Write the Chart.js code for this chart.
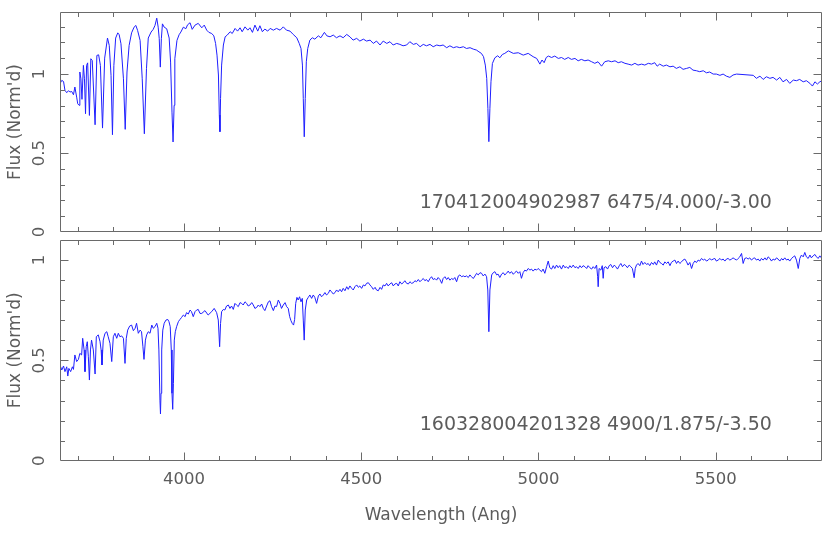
<!DOCTYPE html>
<html><head><meta charset="utf-8">
<script src="https://cdn.jsdelivr.net/npm/chart.js@4.4.1/dist/chart.umd.min.js"></script>
<style>
html,body{margin:0;padding:0;background:#fff;}
#wrap{position:relative;width:830px;height:534px;overflow:hidden;}
.panel{position:absolute;left:0;width:830px;}
#p1{top:0;height:236px;} #p2{top:236px;height:298px;}
</style></head><body>
<div id="wrap"><div class="panel" id="p1"><canvas id="c1"></canvas></div><div class="panel" id="p2"><canvas id="c2"></canvas></div></div>
<script>
// ---------------- DATA ----------------
const xTickValues = [4000, 4500, 5000, 5500];
const xTickLabels = ['4000', '4500', '5000', '5500'];
const xTitle = 'Wavelength (Ang)';
const yTitle = "Flux (Norm'd)";
const yTickValues = [0, 0.5, 1];
const yTickLabels = ['0', '0.5', '1'];

const topLabel = '170412004902987 6475/4.000/-3.00';
const botLabel = '160328004201328 4900/1.875/-3.50';

const topWave = [
3650,3655,3660,3664,3669,3674,3678,3683,3688,3692,
3697,3700,3704,3706,3709,3712,3716,3719,3722,3725,
3728,3733,3737,3741,3749,3754,3759,3764,3770,3776,
3784,3789,3794,3798,3802,3807,3813,3817,3822,3829,
3834,3839,3845,3852,3859,3864,3869,3876,3882,3888,
3894,3899,3907,3913,3918,3923,3927,3930,3933,3936,
3939,3944,3951,3958,3962,3966,3969,3972,3974,3980,
3986,3991,3998,4005,4010,4017,4023,4031,4040,4050,
4057,4064,4070,4078,4084,4089,4093,4097,4099.5,4101.3,
4103,4106,4111,4116,4122,4130,4136,4144,4151,4158,
4164,4172,4180,4186,4193,4200,4208,4214,4221,4228,
4236,4243,4252,4261,4271,4280,4289,4299,4308,4318,
4325,4330,4334,4336.4,4339.2,4342,4345,4349,4355,4362,
4369,4379,4386,4396,4403,4412,4421,4430,4440,4449,
4459,4468,4477,4487,4496,4506,4515,4525,4534,4543,
4553,4562,4572,4581,4590,4600,4609,4618,4628,4637,
4647,4656,4666,4675,4684,4694,4703,4713,4722,4731,
4741,4750,4760,4769,4778,4788,4797,4807,4816,4825,
4832,4839,4845,4850,4854,4857.3,4860,4863,4866,4870,
4877,4885,4891,4898,4905,4915,4929,4943,4957,4971,
4985,4995,5004,5010,5016,5022,5028,5037,5046,5056,
5065,5074,5084,5093,5103,5112,5121,5131,5140,5150,
5159,5168,5178,5187,5197,5206,5216,5225,5234,5244,
5253,5263,5272,5281,5291,5300,5310,5319,5328,5335,
5342,5352,5361,5371,5380,5389,5399,5408,5418,5427,
5436,5446,5455,5465,5474,5483,5493,5502,5512,5521,
5530,5540,5549,5559,5606,5615,5625,5634,5643,5653,
5662,5672,5681,5690,5700,5709,5719,5728,5737,5747,
5756,5766,5773,5780,5787,5794,5800];
const topFlux = [
0.939,0.960,0.953,0.897,0.882,0.895,0.886,0.890,0.869,0.918,
0.854,0.812,0.802,1.013,0.970,0.840,1.055,0.970,0.749,1.055,
1.071,0.738,1.097,1.086,0.679,1.118,1.122,1.055,0.658,1.101,
1.228,1.181,0.992,0.616,1.055,1.228,1.261,1.249,1.192,0.970,
0.650,1.013,1.181,1.261,1.297,1.308,1.276,1.213,0.970,0.622,
1.034,1.228,1.266,1.283,1.308,1.354,1.297,1.224,1.044,1.224,
1.318,1.297,1.287,1.228,1.076,0.759,0.570,0.802,1.097,1.213,
1.249,1.266,1.297,1.287,1.312,1.325,1.283,1.310,1.321,1.293,
1.310,1.278,1.264,1.257,1.242,1.194,1.120,0.994,0.741,0.635,
0.846,1.057,1.184,1.236,1.247,1.268,1.257,1.289,1.272,1.293,
1.268,1.299,1.278,1.293,1.264,1.310,1.272,1.306,1.268,1.285,
1.272,1.289,1.278,1.289,1.278,1.299,1.278,1.272,1.251,1.230,
1.194,1.162,1.057,0.846,0.603,0.846,1.078,1.162,1.215,1.230,
1.221,1.242,1.230,1.264,1.242,1.236,1.247,1.230,1.242,1.230,
1.251,1.236,1.215,1.226,1.209,1.221,1.209,1.215,1.194,1.209,
1.184,1.209,1.194,1.205,1.184,1.194,1.188,1.179,1.184,1.205,
1.188,1.194,1.173,1.188,1.179,1.188,1.173,1.184,1.179,1.184,
1.167,1.179,1.167,1.173,1.167,1.173,1.162,1.167,1.158,1.152,
1.141,1.131,1.110,1.057,0.973,0.783,0.572,0.783,0.951,1.067,
1.103,1.116,1.103,1.124,1.131,1.147,1.131,1.135,1.120,1.131,
1.110,1.099,1.063,1.089,1.072,1.105,1.114,1.105,1.114,1.099,
1.105,1.093,1.105,1.093,1.099,1.084,1.093,1.084,1.089,1.078,
1.068,1.078,1.050,1.078,1.084,1.078,1.084,1.072,1.078,1.068,
1.063,1.057,1.068,1.057,1.063,1.057,1.068,1.063,1.072,1.050,
1.063,1.050,1.057,1.046,1.050,1.036,1.046,1.030,1.036,1.042,
1.025,1.021,1.015,1.021,1.008,1.013,1.000,1.000,0.992,1.000,
0.987,0.979,0.994,1.000,0.992,0.973,0.987,0.966,0.983,0.973,
0.979,0.962,0.979,0.951,0.966,0.941,0.962,0.958,0.966,0.951,
0.958,0.941,0.924,0.951,0.937,0.951,0.958];

const botWave = [
3650,3655,3660,3664,3669,3672,3675,3680,3685,3688,
3692,3697,3702,3706,3711,3714,3718,3720.5,3724,3727,
3730,3733,3736,3739,3744,3749,3752.5,3758,3763,3766,
3768.5,3772,3777,3782,3786,3791,3796,3800.5,3805,3810,
3814.5,3819,3824,3829,3833.4,3837,3841,3846.5,3852,3857,
3862,3866,3871,3876,3880,3884,3887,3891,3894.5,3899,
3904,3909,3913,3918,3923,3926.5,3929,3932,3933.5,3935,
3937,3940,3944,3949,3954,3957.5,3961,3964,3966,3968,
3970,3972.5,3975.4,3979,3984,3988.5,3993,3998,4003,4007,
4012,4017,4021,4026,4031,4035.5,4040,4045,4050,4059,
4068,4078,4085,4092,4096.6,4100.4,4103,4106,4111,4115,
4120,4125,4129.5,4134,4139,4143.6,4148,4153,4158,4162.5,
4167,4172,4176.6,4181,4186,4191,4195.4,4200,4205,4209.5,
4214,4219,4223.6,4228,4233,4238,4242.4,4247,4252,4256.5,
4261,4266,4270.6,4275,4280,4285,4289.4,4294,4298,4301.6,
4305.4,4309,4312,4315,4318.5,4322,4326,4330,4333.6,4336.4,
4339,4342,4346,4350.5,4355,4360,4364.6,4369,4374,4379,
4383.4,4388,4393,4397.5,4402,4407,4411.6,4416,4421,4426,
4430.4,4435,4440,4444.5,4449,4454,4459,4463.3,4468,4473,
4477.4,4482,4487,4492,4496,4501,4506,4510.4,4515,4520,
4524.5,4529,4534,4539,4543,4548,4553,4557.4,4562,4567,
4571.5,4576,4581,4586,4590.3,4595,4600,4604.4,4609,4614,
4618.5,4623,4628,4633,4637.3,4642,4647,4651.4,4656,4661,
4665.5,4670,4675,4679.6,4684,4689,4694,4698.4,4703,4708,
4712.5,4717,4722,4727,4731,4736,4741,4745.4,4750,4755,
4759.5,4764,4769,4774,4778.4,4783,4788,4792.5,4797,4802,
4806.5,4811,4816,4821,4825.4,4830,4835,4839.5,4844,4849,
4853.6,4857,4860,4863,4868,4872.4,4877,4882,4886,4891,
4896,4900.6,4905,4910,4914.6,4919,4924,4929,4933.4,4938,
4943,4947.5,4952,4957,4961.6,4966,4971,4976,4980.4,4985,
4990,4994.5,4999,5004,5008.6,5013,5018,5023,5027.5,5032,
5037,5041.6,5046,5051,5055.6,5060,5065,5070,5074.5,5079,
5084,5088.6,5093,5098,5103,5107.4,5112,5117,5121.5,5126,
5131,5136,5140,5145,5150,5154.4,5159,5164,5167,5168.5,
5171,5176,5180,5182.6,5185,5190,5195,5199.5,5204,5209,
5214,5218,5223,5228,5232.4,5237,5242,5246.5,5251,5256,
5260.6,5265,5270,5273,5276.6,5281,5286,5290.7,5295,5300,
5305,5309.5,5314,5319,5324,5328,5333,5338,5342.5,5347,
5352,5356.5,5361,5366,5371,5375,5380,5385,5389.5,5394,
5399,5403.6,5408,5413,5418,5422,5427,5432,5436.5,5441,
5446,5450.6,5455,5460,5465,5469,5474,5479,5483.5,5488,
5493,5497.6,5502,5507,5512,5516.4,5521,5526,5530.5,5535,
5540,5545,5549,5554,5559,5563.4,5568,5573,5577.5,5582,
5587,5591.6,5596,5601,5606,5610,5615,5620,5624.6,5629,
5634,5639,5643.4,5648,5653,5657.5,5662,5667,5671.6,5676,
5681,5686,5690,5695,5700,5704.5,5709,5714,5719,5723,
5728,5733,5737.4,5742,5747,5751.5,5756,5761,5766,5770,
5775,5780,5784.5,5789,5794,5798];
const botFlux = [
0.477,0.452,0.472,0.444,0.468,0.422,0.460,0.444,0.468,0.455,
0.527,0.494,0.505,0.535,0.527,0.610,0.552,0.444,0.568,0.593,
0.518,0.402,0.552,0.601,0.552,0.432,0.618,0.627,0.593,0.552,
0.477,0.601,0.635,0.643,0.618,0.585,0.494,0.618,0.635,0.610,
0.635,0.618,0.622,0.610,0.485,0.610,0.651,0.671,0.676,0.648,
0.660,0.685,0.635,0.651,0.643,0.568,0.505,0.601,0.627,0.643,
0.635,0.676,0.660,0.668,0.685,0.660,0.552,0.302,0.233,0.336,
0.552,0.651,0.685,0.701,0.704,0.693,0.668,0.552,0.336,0.256,
0.385,0.601,0.643,0.668,0.693,0.704,0.714,0.726,0.718,0.738,
0.731,0.751,0.743,0.718,0.743,0.751,0.754,0.734,0.734,0.748,
0.726,0.743,0.759,0.738,0.701,0.568,0.684,0.743,0.754,0.751,
0.771,0.776,0.759,0.771,0.754,0.784,0.776,0.768,0.788,0.784,
0.776,0.792,0.784,0.771,0.776,0.788,0.776,0.759,0.764,0.776,
0.768,0.781,0.759,0.748,0.771,0.792,0.797,0.768,0.748,0.771,
0.768,0.801,0.784,0.759,0.776,0.788,0.768,0.759,0.718,0.698,
0.684,0.676,0.704,0.784,0.814,0.801,0.817,0.792,0.809,0.701,
0.601,0.751,0.801,0.814,0.826,0.809,0.826,0.814,0.784,0.821,
0.831,0.817,0.826,0.838,0.826,0.834,0.851,0.842,0.831,0.838,
0.851,0.842,0.854,0.842,0.859,0.847,0.867,0.854,0.871,0.859,
0.851,0.867,0.876,0.864,0.871,0.859,0.876,0.871,0.884,0.887,
0.876,0.867,0.854,0.864,0.851,0.847,0.864,0.854,0.876,0.871,
0.884,0.871,0.881,0.887,0.871,0.881,0.884,0.871,0.892,0.881,
0.887,0.897,0.884,0.881,0.892,0.884,0.887,0.897,0.892,0.903,
0.892,0.900,0.908,0.897,0.903,0.892,0.908,0.917,0.903,0.908,
0.900,0.913,0.903,0.884,0.908,0.917,0.903,0.913,0.900,0.908,
0.903,0.913,0.892,0.921,0.926,0.917,0.921,0.917,0.921,0.913,
0.926,0.917,0.908,0.921,0.934,0.926,0.937,0.934,0.921,0.930,
0.917,0.851,0.643,0.851,0.926,0.937,0.942,0.926,0.930,0.913,
0.930,0.937,0.926,0.934,0.945,0.934,0.942,0.929,0.938,0.945,
0.934,0.942,0.909,0.938,0.950,0.945,0.958,0.950,0.955,0.945,
0.955,0.950,0.958,0.950,0.942,0.955,0.934,0.967,0.995,0.962,
0.955,0.972,0.958,0.975,0.962,0.972,0.955,0.975,0.962,0.967,
0.958,0.972,0.962,0.975,0.962,0.967,0.958,0.972,0.962,0.972,
0.967,0.958,0.972,0.962,0.955,0.967,0.958,0.975,0.917,0.867,
0.958,0.950,0.972,0.909,0.962,0.967,0.955,0.972,0.978,0.962,
0.975,0.967,0.955,0.972,0.983,0.967,0.978,0.972,0.962,0.975,
0.967,0.958,0.912,0.958,0.975,0.983,0.972,0.995,0.978,0.988,
0.978,0.983,0.972,0.988,0.978,0.991,0.975,1.000,0.988,0.983,
0.975,0.991,0.983,0.991,0.972,0.988,0.995,1.000,0.983,0.995,
0.983,0.991,1.000,1.005,0.991,0.975,0.988,0.958,0.983,0.995,
0.988,1.000,0.995,1.008,1.000,1.005,0.995,1.000,1.008,1.000,
1.005,1.008,0.995,1.000,1.008,1.000,1.005,0.995,1.005,1.008,
1.000,1.005,1.011,1.005,1.000,1.008,1.016,1.033,0.983,1.008,
1.011,1.005,1.011,1.000,1.008,1.011,1.000,1.005,0.995,1.008,
1.000,1.011,1.000,1.016,1.008,0.995,1.005,1.000,1.011,1.005,
0.995,1.008,1.000,1.011,1.000,1.005,0.995,1.008,1.016,1.021,
1.000,0.958,1.008,1.025,1.016,1.038,1.016,1.008,1.025,1.011,
1.021,1.028,1.016,1.008,1.021,1.011];

// ---------------- STYLE ----------------
const FONT = "'DejaVu Sans', 'Liberation Sans', sans-serif";
const TEXT_COLOR = '#5c5c5c';
const AXIS_COLOR = '#6a6a6a';
const LINE_COLOR = '#1f1fff';
const X_MIN = 3650, X_MAX = 5800;

Chart.defaults.font.family = FONT;
Chart.defaults.color = TEXT_COLOR;

function rng(a, b, step) { const out = []; for (let v = a; v <= b + 1e-9; v += step) out.push(Math.round(v * 1000) / 1000); return out; }
const xMinorTicks = rng(3700, 5700, 100);
const xMajorTicks = xTickValues;

const framePlugin = {
  id: 'frame',
  afterDatasetsDraw(chart, args, o) {
    const { ctx, chartArea: a, scales: { x, y } } = chart;
    const L = Math.round(a.left) + 0.5, R = Math.round(a.right) - 0.5;
    const T = Math.round(a.top) + 0.5, B = Math.round(a.bottom) - 0.5;
    ctx.save();
    ctx.strokeStyle = AXIS_COLOR; ctx.lineWidth = 1;
    ctx.beginPath();
    ctx.moveTo(L, T); ctx.lineTo(R, T); ctx.lineTo(R, B); ctx.lineTo(L, B); ctx.closePath();
    for (const v of xMinorTicks) {
      const px = Math.round(x.getPixelForValue(v)) + 0.5;
      const len = xMajorTicks.includes(v) ? 8 : 4.5;
      ctx.moveTo(px, B); ctx.lineTo(px, B - len);
      ctx.moveTo(px, T); ctx.lineTo(px, T + len);
    }
    for (const v of o.yMinor) {
      const py = Math.round(y.getPixelForValue(v)) + 0.5;
      const len = o.yMajor.includes(v) ? 8 : 4.5;
      ctx.moveTo(L, py); ctx.lineTo(L + len, py);
      ctx.moveTo(R, py); ctx.lineTo(R - len, py);
    }
    ctx.stroke();
    ctx.fillStyle = TEXT_COLOR;
    ctx.font = '19px ' + FONT;
    ctx.textAlign = 'left'; ctx.textBaseline = 'alphabetic';
    ctx.fillText(o.label, x.getPixelForValue(o.lx), y.getPixelForValue(o.ly));
    ctx.restore();
  }
};

function makePanel(id, wave, flux, yMax, yMinor, label, showX, padTop, padBottom) {
  const data = wave.map((w, i) => ({ x: w, y: flux[i] }));
  return new Chart(document.getElementById(id), {
    type: 'line',
    data: { datasets: [{ data, borderColor: LINE_COLOR, borderWidth: 1, pointRadius: 0, tension: 0, fill: false }] },
    options: {
      responsive: true, maintainAspectRatio: false, animation: false, devicePixelRatio: 1,
      layout: { padding: { top: padTop, right: 8, bottom: padBottom, left: 0 } },
      plugins: {
        legend: { display: false }, tooltip: { enabled: false },
        frame: { yMinor, yMajor: [0.5, 1], label, lx: 4665, ly: 0.152 }
      },
      scales: {
        x: {
          type: 'linear', min: X_MIN, max: X_MAX, display: showX,
          afterBuildTicks: s => { s.ticks = xTickValues.map(v => ({ value: v })); },
          ticks: { callback: (v, i) => xTickLabels[i], font: { size: 16.5 }, color: TEXT_COLOR, padding: 9, maxRotation: 0, autoSkip: false },
          grid: { display: false, drawTicks: false }, border: { display: false },
          title: { display: true, text: xTitle, font: { size: 17 }, color: TEXT_COLOR, padding: { top: 0, bottom: 8 } },
          afterFit: s => { s.height = showX ? 73.3 : 0; s.paddingLeft = 0; s.paddingRight = 0; }
        },
        y: {
          type: 'linear', min: 0, max: yMax,
          afterBuildTicks: s => { s.ticks = yTickValues.map(v => ({ value: v })); },
          ticks: { callback: (v, i) => yTickLabels[i], font: { size: 16.5 }, color: TEXT_COLOR, padding: 7, minRotation: 90, maxRotation: 90, crossAlign: 'center', autoSkip: false },
          grid: { display: false, drawTicks: false }, border: { display: false },
          title: { display: true, text: yTitle, font: { size: 17 }, color: TEXT_COLOR, padding: { top: 5, bottom: 0 } },
          afterFit: s => { s.width = 60; s.paddingTop = 0; s.paddingBottom = 0; }
        }
      }
    },
    plugins: [framePlugin]
  });
}

makePanel('c1', topWave, topFlux, 1.393, rng(0.1, 1.3, 0.1), topLabel, false, 12, 4);
makePanel('c2', botWave, botFlux, 1.10, rng(0.1, 1.0, 0.1), botLabel, true, 4, 0);
</script>
</body></html>
